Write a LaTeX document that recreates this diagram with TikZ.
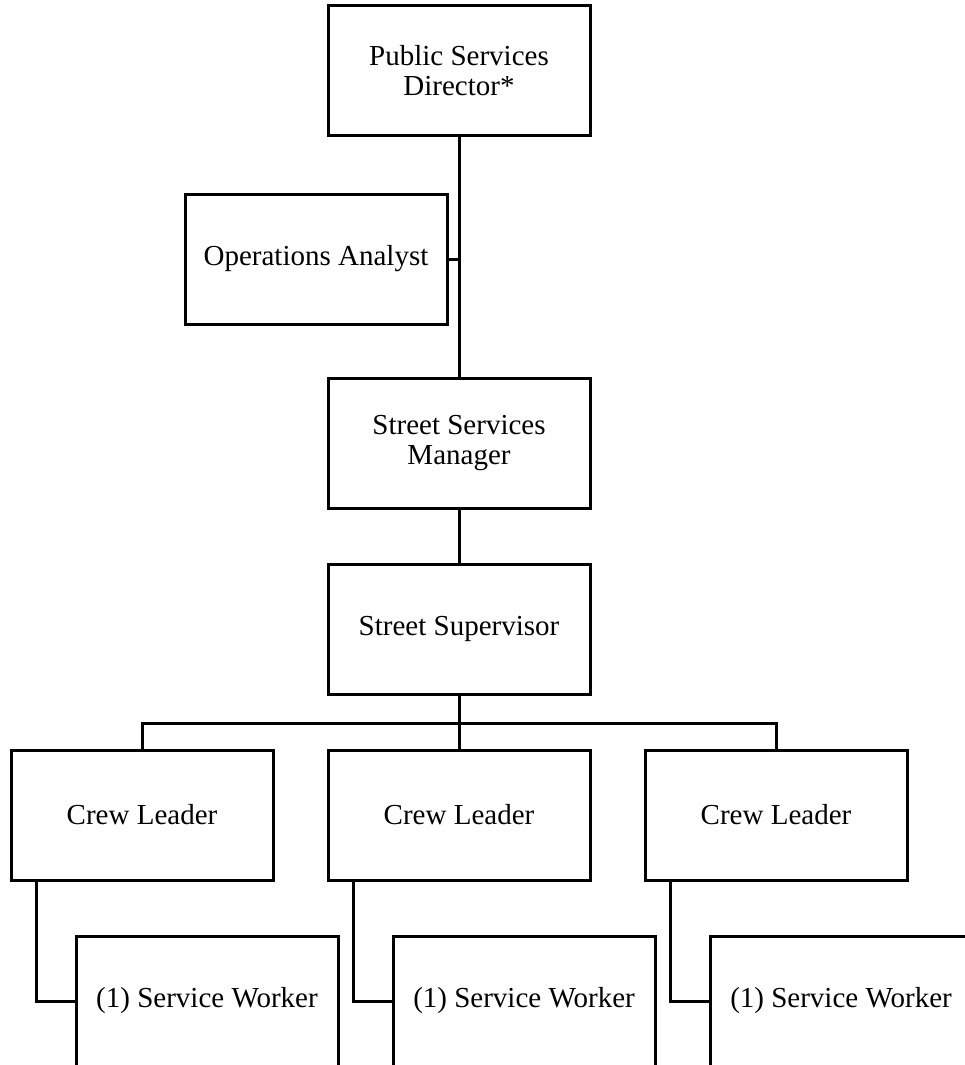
\documentclass[tikz,border=0pt]{standalone}
\usepackage{fontspec}
\setmainfont{Liberation Serif}
\usepackage{tikz}
\usetikzlibrary{positioning,calc}
\tikzset{post/.style={draw=black,line width=3pt,minimum width=262pt,minimum height=130pt,
    align=center,inner sep=0pt,font=\fontsize{29}{30}\selectfont},
  link/.style={line width=3pt,draw=black}}
\begin{document}
\begin{tikzpicture}[x=1pt,y=-1pt]
\useasboundingbox (0,0) rectangle (965,1065);
\clip (0,0) rectangle (965,1065);
\node[post] (dir) at (459,70.5) {Public Services\\Director*};
\node[post] (ana) at (316,259) {Operations Analyst};
\node[post] (mgr) at (459,443) {Street Services\\Manager};
\node[post] (sup) at (459,629) {Street Supervisor};
\foreach \i/\cx in {1/142,2/459,3/776}{
\node[post] (crew\i) at (\cx,815) {Crew Leader};
\node[post] (wrk\i) at (\cx+65,1001) {(1) Service Worker};
}
\draw[link] (dir.south) -- (mgr.north);
\draw[link] (ana.east) -- (ana.east -| dir.south);
\draw[link] (mgr.south) -- (sup.north);
\draw[link] (sup.south) -- ++(0,28) coordinate (bus);
\draw[link] (crew1.north) |- (bus) -| (crew3.north);
\draw[link] (bus) -- (crew2.north);
\foreach \i in {1,2,3}{
\draw[link] ([xshift=27pt]crew\i.south west) |- (wrk\i.west);
}
\end{tikzpicture}
\end{document}
